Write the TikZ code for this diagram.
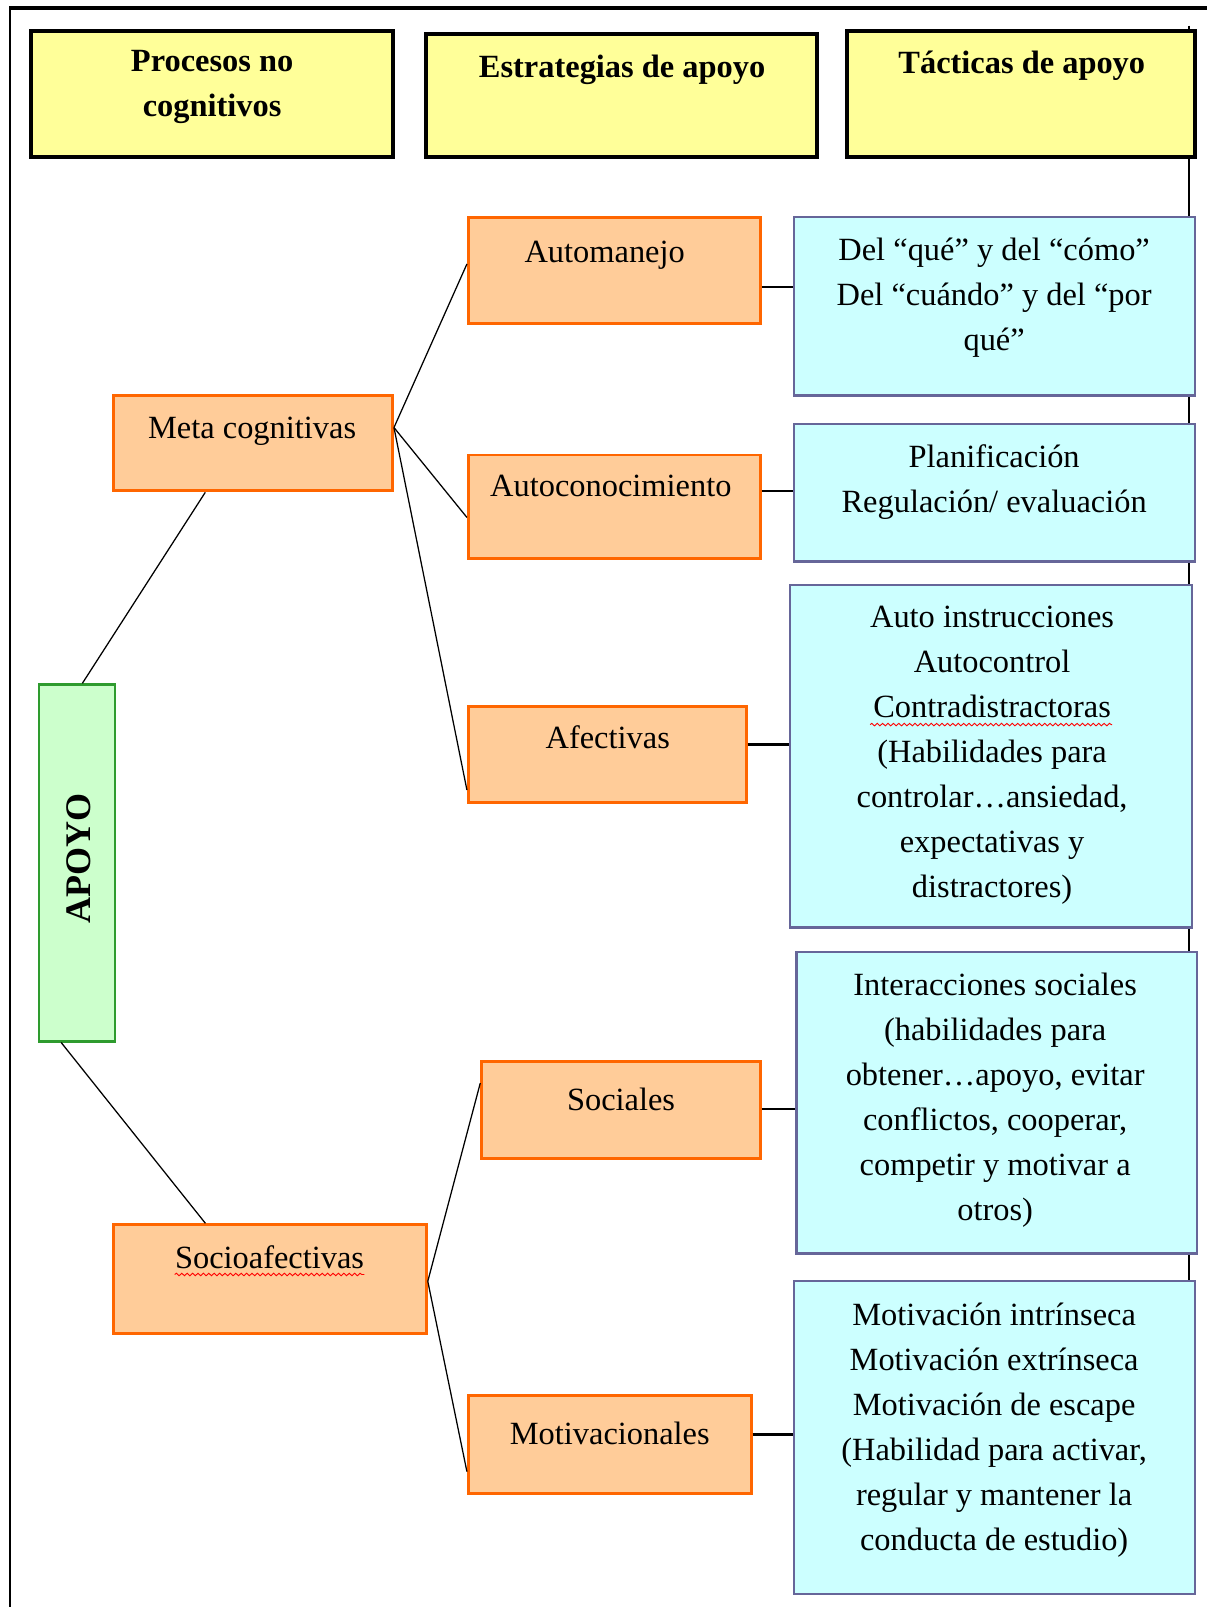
\documentclass[tikz,border=0pt]{standalone}
\usepackage{fontspec}
\setmainfont{Liberation Serif}
\usetikzlibrary{positioning,fit,calc,shadows,decorations.pathmorphing}
\definecolor{hdryellow}{HTML}{FFFF99}
\definecolor{boxorange}{HTML}{FFCC99}
\definecolor{lineorange}{HTML}{FF6600}
\definecolor{boxcyan}{HTML}{CCFFFF}
\definecolor{linecyan}{HTML}{666699}
\definecolor{boxgreen}{HTML}{CCFFCC}
\definecolor{linegreen}{HTML}{2E9B2E}

\begin{document}
\begin{tikzpicture}[x=0.02cm, y=-0.02cm,
  hdr/.style={draw=black, line width=2.2pt, fill=hdryellow, inner sep=0pt, drop shadow={shadow xshift=0.6pt, shadow yshift=-0.9pt, fill=black!45}},
  obox/.style={draw=lineorange, line width=1.6pt, fill=boxorange, inner sep=0pt},
  tbox/.style={draw=linecyan, line width=1.3pt, fill=boxcyan, inner sep=0pt},
  gbox/.style={draw=linegreen, line width=1.4pt, fill=boxgreen, inner sep=0pt},
  txt/.style={inner sep=0pt, align=center, anchor=north, font=\fontsize{18}{25}\selectfont},
  btxt/.style={txt, font=\fontsize{18}{25}\selectfont\bfseries},
  link/.style={line width=0.7pt},
  hlink/.style={line width=1.3pt},
  wavy/.style={red, line width=0.5pt, decorate, decoration={snake, amplitude=0.7pt, segment length=3pt}}]
  \useasboundingbox (0,0) rectangle (1178,1568);
  % frame
  \draw[line width=1pt] (10,1568) -- (10,8);
  \draw[line width=2pt] (9,8) -- (1178,8);
  \draw[line width=1pt] (1160,25) -- (1160,1555);

  % headers
  \node[hdr, fit={(30,30) (383,153)}] (procesos) {};
  \node[hdr, fit={(416,33) (797,153)}] (estrategias) {};
  \node[hdr, fit={(826,30) (1166,153)}] (tacticas) {};
  \node[btxt] (procesosT) at (207,49) {Procesos no\\cognitivos};
  \node[btxt] (estrategiasT) at (607,53) {Estrategias de apoyo};
  \node[btxt] (tacticasT) at (997,49) {Tácticas de apoyo};

  % apoyo
  \node[gbox, fit={(38,668) (112,1016)}] (apoyo) {};
  \node[btxt, anchor=center, rotate=90, font=\fontsize{20}{24}\selectfont\bfseries] (apoyoT) at (77,838) {APOYO};

  % procesos
  \node[obox, fit={(111,386) (383,479)}] (meta) {};
  \node[txt] (metaT) at (246,407) {Meta cognitivas};
  \node[obox, fit={(111,1195) (416,1301)}] (socio) {};
  \node[txt] (socioT) at (263,1215) {Socioafectivas};
  \draw[wavy] ([yshift=-3pt]socioT.south west) -- ([yshift=-3pt]socioT.south east);

  % estrategias
  \node[obox, fit={(457,212) (742,316)}] (auto) {};
  \node[txt] (autoT) at (590,235) {Automanejo};
  \node[obox, fit={(457,444) (742,545)}] (autoc) {};
  \node[txt] (autocT) at (596,463) {Autoconocimiento};
  \node[obox, fit={(457,689) (728,783)}] (afec) {};
  \node[txt] (afecT) at (593,708) {Afectivas};
  \node[obox, fit={(470,1036) (742,1130)}] (soc) {};
  \node[txt] (socT) at (606,1061) {Sociales};
  \node[obox, fit={(457,1362) (733,1457)}] (motiv) {};
  \node[txt] (motivT) at (595,1387) {Motivacionales};

  % tacticas
  \node[tbox, fit={(775,212) (1166,386)}] (t1) {};
  \node[txt] (t1T) at (970,232) {Del “qué” y del “cómo”\\Del “cuándo” y del “por\\qué”};
  \node[tbox, fit={(775,414) (1166,548)}] (t2) {};
  \node[txt] (t2T) at (970,434) {Planificación\\Regulación/ evaluación};
  \node[tbox, fit={(771,571) (1163,905)}] (t3) {};
  \node[txt] (t3T) at (968,591) {Auto instrucciones\\Autocontrol\\Contradistractoras\\(Habilidades para\\controlar…ansiedad,\\expectativas y\\distractores)};
  \draw[wavy] (849,707) -- (1085,707);
  \node[tbox, fit={(777,929) (1168,1223)}] (t4) {};
  \node[txt] (t4T) at (971,949) {Interacciones sociales\\(habilidades para\\obtener…apoyo, evitar\\conflictos, cooperar,\\competir y motivar a\\otros)};
  \node[tbox, fit={(775,1250) (1166,1555)}] (t5) {};
  \node[txt] (t5T) at (970,1271) {Motivación intrínseca\\Motivación extrínseca\\Motivación de escape\\(Habilidad para activar,\\regular y mantener la\\conducta de estudio)};

  % links
  \draw[link] ($(apoyo.north west)!0.57!(apoyo.north east)$) -- ($(meta.south west)!0.33!(meta.south east)$);
  \draw[link] ($(apoyo.south west)!0.3!(apoyo.south east)$) -- ($(socio.north west)!0.295!(socio.north east)$);
  \draw[link] ($(meta.north east)!0.34!(meta.south east)$) -- ($(auto.north west)!0.44!(auto.south west)$);
  \draw[link] ($(meta.north east)!0.34!(meta.south east)$) -- ($(autoc.north west)!0.6!(autoc.south west)$);
  \draw[link] ($(meta.north east)!0.34!(meta.south east)$) -- ($(afec.north west)!0.86!(afec.south west)$);
  \draw[link] ($(socio.north east)!0.52!(socio.south east)$) -- ($(soc.north west)!0.23!(soc.south west)$);
  \draw[link] ($(socio.north east)!0.52!(socio.south east)$) -- ($(motiv.north west)!0.77!(motiv.south west)$);
  \draw[hlink] ($(auto.north east)!0.65!(auto.south east)$) coordinate (c1) -- (c1 -| t1.west);
  \draw[hlink] ($(autoc.north east)!0.35!(autoc.south east)$) coordinate (c2) -- (c2 -| t2.west);
  \draw[hlink] ($(afec.north east)!0.4!(afec.south east)$) coordinate (c3) -- (c3 -| t3.west);
  \draw[hlink] ($(soc.north east)!0.49!(soc.south east)$) coordinate (c4) -- (c4 -| t4.west);
  \draw[hlink] ($(motiv.north east)!0.4!(motiv.south east)$) coordinate (c5) -- (c5 -| t5.west);
\end{tikzpicture}
\end{document}
